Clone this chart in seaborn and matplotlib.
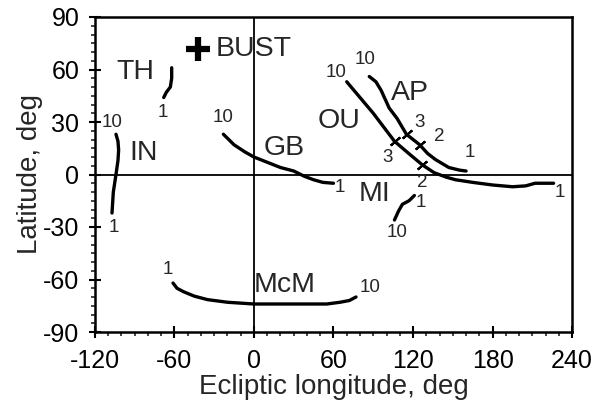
import numpy as np
import pandas as pd
import matplotlib
matplotlib.use("Agg")
import matplotlib.pyplot as plt
from matplotlib.ticker import MultipleLocator
import seaborn as sns

# ---- data ----
th_lon = [-68, -66, -63, -62, -62]
th_lat = [44, 47, 50, 55, 61]

in_lon = [-107, -106, -104, -102.5, -102, -102.5, -104]
in_lat = [-22, -10, 0, 8, 14, 19, 23]

gb_lon = [-23, -15, -7, 0, 10, 20, 30, 38, 45, 52, 60]
gb_lat = [23, 17, 13, 10, 7, 4, 2, -1, -3, -4.5, -5]

ou_lon = [70, 80, 90, 98, 106, 116, 127, 136, 145, 152, 165, 180, 195, 205, 212, 220, 226]
ou_lat = [53, 44, 35, 27, 19, 12.5, 5.5, 1, -1.5, -3, -4.5, -6, -7, -6.5, -5, -5, -5]

ap_lon = [87, 92, 96, 99, 102, 108, 115, 120, 125, 131, 137, 147, 155, 160]
ap_lat = [56, 53, 48, 43, 38, 32, 23, 20, 17, 12, 8.5, 4, 2.5, 2]

mi_lon = [121, 117, 112, 109, 106]
mi_lat = [-12, -15, -17, -21, -26]

mcm_lon = [-61, -58, -53, -45, -35, -20, 0, 20, 40, 55, 65, 72, 77]
mcm_lat = [-62, -65, -67, -69.5, -71.5, -73, -74, -74, -74, -74, -73, -72, -70]

bust_lon = [-42]
bust_lat = [71.5]

# day marks 3 and 2 on OU and AP
mark_lon = [115.4, 125.3, 106.3, 126.8]
mark_lat = [22.9, 17.1, 18.9, 5.7]

names = ["TH", "IN", "GB", "OU", "AP", "MI", "McM"]
curves = [(th_lon, th_lat), (in_lon, in_lat), (gb_lon, gb_lat), (ou_lon, ou_lat),
          (ap_lon, ap_lat), (mi_lon, mi_lat), (mcm_lon, mcm_lat)]

# big labels: text, lon, lat
big_labels = [("TH", -89.6, 58.8), ("IN", -83.5, 12.5), ("GB", 22.8, 15.4),
              ("OU", 64, 30.3), ("AP", 117.7, 46.8), ("MI", 91, -11.4),
              ("McM", 22.8, -62.9)]

# small end labels
small_labels = [("1", -68.4, 35.4),
                ("10", -107, 29.7), ("1", -105.6, -30.3),
                ("10", -23.5, 32.5), ("1", 65, -7.5),
                ("10", 62.3, 58.5), ("1", 231, -10.3),
                ("10", 83.6, 65.7), ("1", 163, 12.6),
                ("3", 125, 29.7), ("2", 140, 21.7),
                ("3", 101, 10), ("2", 126.8, -4.6),
                ("1", 126, -16), ("10", 108, -33),
                ("1", -64.6, -54.3), ("10", 87.3, -64.6)]

# ---- plot ----
sns.set_style("ticks")
plt.rcParams["font.family"] = ["Liberation Sans", "DejaVu Sans"]
plt.rcParams["axes.unicode_minus"] = False

fig = plt.figure(figsize=(5.96, 4.0), dpi=100)
ax = fig.add_axes([0.159, 0.17, 0.801, 0.7875])

for name, (lon, lat) in zip(names, curves):
    df = pd.DataFrame({"lon": lon, "lat": lat})
    sns.lineplot(data=df, x="lon", y="lat", sort=False, color="black",
                 linewidth=2.4, ax=ax, estimator=None)

ax.plot(bust_lon, bust_lat, marker="+", color="black", markersize=17,
        markeredgewidth=4.5, linestyle="none")
ax.text(-29, 71.5, "BUST", fontsize=20.5, va="center", ha="left")

ax.plot(mark_lon, mark_lat, marker=(2, 2, -49), color="black", markersize=9,
        markeredgewidth=1.5, linestyle="none")

for txt, x, y in big_labels:
    ax.text(x, y, txt, fontsize=20.5, ha="center", va="center")
for txt, x, y in small_labels:
    ax.text(x, y, txt, fontsize=13.5, ha="center", va="center")

ax.axhline(0, color="black", linewidth=1.3, zorder=0)
ax.axvline(0, color="black", linewidth=1.3, zorder=0)

ax.set_xlim(-120, 240)
ax.set_ylim(-90, 90)
ax.xaxis.set_major_locator(MultipleLocator(60))
ax.xaxis.set_minor_locator(MultipleLocator(10))
ax.yaxis.set_major_locator(MultipleLocator(30))
ax.yaxis.set_minor_locator(MultipleLocator(5))
ax.tick_params(which="major", direction="inout", length=8, width=1.5,
               labelsize=18, colors="black")
ax.tick_params(axis="x", which="major", pad=8)
ax.tick_params(axis="y", which="major", pad=7)
ax.tick_params(which="minor", direction="out", length=3, width=1.2)

for sp in ax.spines.values():
    sp.set_visible(True)
    sp.set_linewidth(1.8)
    sp.set_color("black")

ax.set_xlabel("Ecliptic longitude, deg", fontsize=20, labelpad=1)
ax.set_ylabel("Latitude, deg", fontsize=20, labelpad=0)

fig.savefig("out.png", dpi=100)
